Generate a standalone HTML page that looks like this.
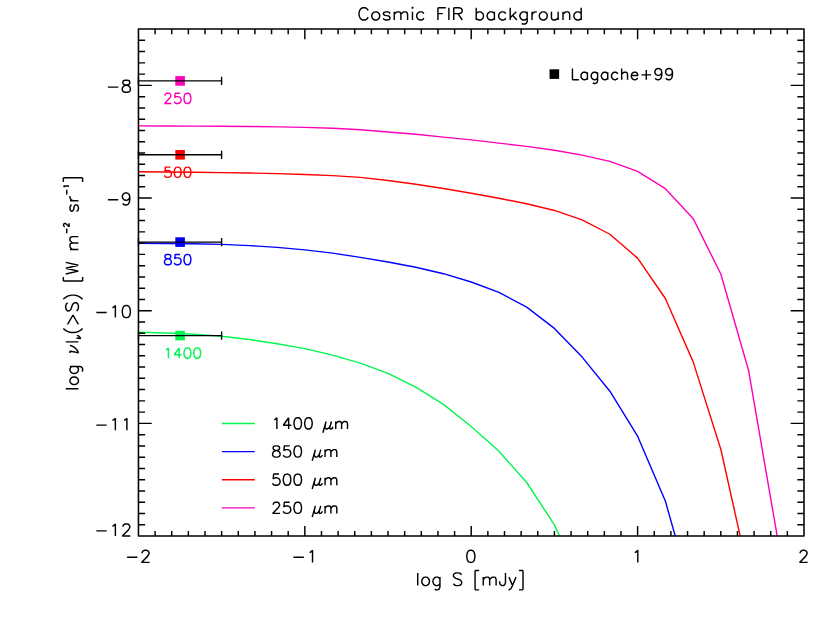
<!DOCTYPE html>
<html><head><meta charset="utf-8"><title>Cosmic FIR background</title>
<style>html,body{margin:0;padding:0;background:#fff;font-family:"Liberation Sans",sans-serif}svg{display:block}</style></head>
<body>
<svg width="830" height="624" viewBox="0 0 830 624" fill="none" stroke-linecap="round" stroke-linejoin="round">
<defs><clipPath id="c"><rect x="138.45" y="29.05" width="665.55" height="507"/></clipPath></defs>
<g clip-path="url(#c)" stroke-linejoin="round"><path d="M138.45 332.2 L166.18 333 L193.91 334.2 L221.64 336.2 L249.38 339.5 L277.11 343.8 L304.84 348.65 L332.57 355.1 L360.3 363.2 L388.03 373.4 L415.76 387.1 L443.49 404.4 L471.22 426.5 L498.96 451.3 L526.69 482.5 L554.42 524.9 L582.15 586" stroke="#00f550" stroke-width="1.4"/><path d="M138.45 243.3 L166.18 243.5 L193.91 243.8 L221.64 244.4 L249.38 245.6 L277.11 247.4 L304.84 249.9 L332.57 253.1 L360.3 257.4 L388.03 262 L415.76 267.2 L443.49 273.7 L471.22 282 L498.96 292.4 L526.69 307.1 L554.42 328.4 L582.15 357.1 L609.88 391.2 L637.61 436.2 L665.34 501 L693.08 599" stroke="#0000ff" stroke-width="1.4"/><path d="M138.45 171.8 L166.18 172 L193.91 172.3 L221.64 172.6 L249.38 173 L277.11 173.6 L304.84 174.5 L332.57 175.6 L360.3 177.4 L388.03 180.5 L415.76 184.3 L443.49 188.5 L471.22 193.2 L498.96 198.2 L526.69 203.8 L554.42 210.45 L582.15 219.8 L609.88 234.25 L637.61 258.1 L665.34 298.5 L693.08 361.6 L720.81 449.25 L748.54 573.6" stroke="#ff0000" stroke-width="1.4"/><path d="M138.45 125.9 L166.18 126 L193.91 126.1 L221.64 126.3 L249.38 126.5 L277.11 126.9 L304.84 127.4 L332.57 128.2 L360.3 129.7 L388.03 132 L415.76 134.3 L443.49 137.1 L471.22 139.9 L498.96 143.1 L526.69 146.4 L554.42 150.2 L582.15 155.1 L609.88 161.4 L637.61 171.4 L665.34 188.65 L693.08 218.4 L720.81 274 L748.54 370.2 L776.27 530.7 L804 720" stroke="#ff00b9" stroke-width="1.4"/></g>
<g><rect x="175.3" y="76.1" width="9.6" height="9.6" fill="#ff00b9" stroke="none"/><rect x="175.3" y="150" width="9.6" height="9.6" fill="#ff0000" stroke="none"/><rect x="175.3" y="237.3" width="9.6" height="9.6" fill="#0000ff" stroke="none"/><rect x="175.3" y="330.8" width="9.6" height="9.6" fill="#00f550" stroke="none"/></g>
<path d="M138.45 80.9 L221.6 80.9 M221.6 76.8 L221.6 85 M138.45 76.8 L138.45 85 M138.45 154.8 L221.6 154.8 M221.6 150.7 L221.6 158.9 M138.45 150.7 L138.45 158.9 M138.45 242.1 L221.6 242.1 M221.6 238 L221.6 246.2 M138.45 238 L138.45 246.2 M138.45 335.6 L221.6 335.6 M221.6 331.5 L221.6 339.7 M138.45 331.5 L138.45 339.7" stroke="#000" stroke-width="1.38" stroke-linecap="butt"/>
<path d="M164.96 95.68 L164.96 95.19 L165.44 94.21 L165.93 93.72 L166.91 93.23 L168.87 93.23 L169.85 93.72 L170.34 94.21 L170.82 95.19 L170.82 96.17 L170.34 97.14 L169.36 98.61 L164.47 103.5 L171.31 103.5 M180.12 93.23 L175.22 93.23 L174.74 97.63 L175.22 97.14 L176.69 96.65 L178.16 96.65 L179.63 97.14 L180.6 98.12 L181.09 99.59 L181.09 100.57 L180.6 102.03 L179.63 103.01 L178.16 103.5 L176.69 103.5 L175.22 103.01 L174.74 102.52 L174.25 101.54 M186.96 93.23 L185.49 93.72 L184.52 95.19 L184.03 97.63 L184.03 99.1 L184.52 101.54 L185.49 103.01 L186.96 103.5 L187.94 103.5 L189.41 103.01 L190.38 101.54 L190.87 99.1 L190.87 97.63 L190.38 95.19 L189.41 93.72 L187.94 93.23 L186.96 93.23" stroke="#ff00b9" stroke-width="1.43" stroke-linecap="butt" stroke-linejoin="bevel"/>
<path d="M170.34 167.13 L165.44 167.13 L164.96 171.53 L165.44 171.04 L166.91 170.55 L168.38 170.55 L169.85 171.04 L170.82 172.02 L171.31 173.49 L171.31 174.47 L170.82 175.93 L169.85 176.91 L168.38 177.4 L166.91 177.4 L165.44 176.91 L164.96 176.42 L164.47 175.44 M177.18 167.13 L175.71 167.62 L174.74 169.09 L174.25 171.53 L174.25 173 L174.74 175.44 L175.71 176.91 L177.18 177.4 L178.16 177.4 L179.63 176.91 L180.6 175.44 L181.09 173 L181.09 171.53 L180.6 169.09 L179.63 167.62 L178.16 167.13 L177.18 167.13 M186.96 167.13 L185.49 167.62 L184.52 169.09 L184.03 171.53 L184.03 173 L184.52 175.44 L185.49 176.91 L186.96 177.4 L187.94 177.4 L189.41 176.91 L190.38 175.44 L190.87 173 L190.87 171.53 L190.38 169.09 L189.41 167.62 L187.94 167.13 L186.96 167.13" stroke="#ff0000" stroke-width="1.43" stroke-linecap="butt" stroke-linejoin="bevel"/>
<path d="M166.91 254.43 L165.44 254.92 L164.96 255.9 L164.96 256.88 L165.44 257.85 L166.42 258.34 L168.38 258.83 L169.85 259.32 L170.82 260.3 L171.31 261.28 L171.31 262.74 L170.82 263.72 L170.34 264.21 L168.87 264.7 L166.91 264.7 L165.44 264.21 L164.96 263.72 L164.47 262.74 L164.47 261.28 L164.96 260.3 L165.93 259.32 L167.4 258.83 L169.36 258.34 L170.34 257.85 L170.82 256.88 L170.82 255.9 L170.34 254.92 L168.87 254.43 L166.91 254.43 M180.12 254.43 L175.22 254.43 L174.74 258.83 L175.22 258.34 L176.69 257.85 L178.16 257.85 L179.63 258.34 L180.6 259.32 L181.09 260.79 L181.09 261.77 L180.6 263.23 L179.63 264.21 L178.16 264.7 L176.69 264.7 L175.22 264.21 L174.74 263.72 L174.25 262.74 M186.96 254.43 L185.49 254.92 L184.52 256.39 L184.03 258.83 L184.03 260.3 L184.52 262.74 L185.49 264.21 L186.96 264.7 L187.94 264.7 L189.41 264.21 L190.38 262.74 L190.87 260.3 L190.87 258.83 L190.38 256.39 L189.41 254.92 L187.94 254.43 L186.96 254.43" stroke="#0000ff" stroke-width="1.43" stroke-linecap="butt" stroke-linejoin="bevel"/>
<path d="M165.93 349.89 L166.91 349.4 L168.38 347.93 L168.38 358.2 M179.14 347.93 L174.25 354.78 L181.58 354.78 M179.14 347.93 L179.14 358.2 M186.96 347.93 L185.49 348.42 L184.52 349.89 L184.03 352.33 L184.03 353.8 L184.52 356.24 L185.49 357.71 L186.96 358.2 L187.94 358.2 L189.41 357.71 L190.38 356.24 L190.87 353.8 L190.87 352.33 L190.38 349.89 L189.41 348.42 L187.94 347.93 L186.96 347.93 M196.74 347.93 L195.27 348.42 L194.3 349.89 L193.81 352.33 L193.81 353.8 L194.3 356.24 L195.27 357.71 L196.74 358.2 L197.72 358.2 L199.19 357.71 L200.16 356.24 L200.65 353.8 L200.65 352.33 L200.16 349.89 L199.19 348.42 L197.72 347.93 L196.74 347.93" stroke="#00f550" stroke-width="1.43" stroke-linecap="butt" stroke-linejoin="bevel"/>
<rect x="549.55" y="69.3" width="9.6" height="9.6" fill="#000" stroke="none"/>
<path d="M572.44 68.47 L572.44 79.7 M572.44 79.7 L578.86 79.7 M587.42 72.21 L587.42 79.7 M587.42 73.81 L586.35 72.75 L585.28 72.21 L583.67 72.21 L582.6 72.75 L581.53 73.81 L581 75.42 L581 76.49 L581.53 78.09 L582.6 79.17 L583.67 79.7 L585.28 79.7 L586.35 79.17 L587.42 78.09 M597.58 72.21 L597.58 80.77 L597.05 82.38 L596.51 82.91 L595.44 83.45 L593.84 83.45 L592.77 82.91 M597.58 73.81 L596.51 72.75 L595.44 72.21 L593.84 72.21 L592.77 72.75 L591.7 73.81 L591.16 75.42 L591.16 76.49 L591.7 78.09 L592.77 79.17 L593.84 79.7 L595.44 79.7 L596.51 79.17 L597.58 78.09 M607.75 72.21 L607.75 79.7 M607.75 73.81 L606.68 72.75 L605.61 72.21 L604 72.21 L602.93 72.75 L601.87 73.81 L601.33 75.42 L601.33 76.49 L601.87 78.09 L602.93 79.17 L604 79.7 L605.61 79.7 L606.68 79.17 L607.75 78.09 M617.91 73.81 L616.84 72.75 L615.77 72.21 L614.17 72.21 L613.1 72.75 L612.03 73.81 L611.5 75.42 L611.5 76.49 L612.03 78.09 L613.1 79.17 L614.17 79.7 L615.77 79.7 L616.84 79.17 L617.91 78.09 M621.66 68.47 L621.66 79.7 M621.66 74.35 L623.26 72.75 L624.33 72.21 L625.94 72.21 L627.01 72.75 L627.54 74.35 L627.54 79.7 M631.29 75.42 L637.71 75.42 L637.71 74.35 L637.17 73.28 L636.64 72.75 L635.57 72.21 L633.96 72.21 L632.89 72.75 L631.82 73.81 L631.29 75.42 L631.29 76.49 L631.82 78.09 L632.89 79.17 L633.96 79.7 L635.57 79.7 L636.64 79.17 L637.71 78.09 M646.27 70.07 L646.27 79.7 M641.45 74.89 L651.08 74.89 M661.78 72.21 L661.25 73.81 L660.18 74.89 L658.57 75.42 L658.04 75.42 L656.43 74.89 L655.37 73.81 L654.83 72.21 L654.83 71.67 L655.37 70.07 L656.43 69 L658.04 68.47 L658.57 68.47 L660.18 69 L661.25 70.07 L661.78 72.21 L661.78 74.89 L661.25 77.56 L660.18 79.17 L658.57 79.7 L657.5 79.7 L655.9 79.17 L655.37 78.09 M672.48 72.21 L671.95 73.81 L670.88 74.89 L669.27 75.42 L668.74 75.42 L667.13 74.89 L666.06 73.81 L665.53 72.21 L665.53 71.67 L666.06 70.07 L667.13 69 L668.74 68.47 L669.27 68.47 L670.88 69 L671.95 70.07 L672.48 72.21 L672.48 74.89 L671.95 77.56 L670.88 79.17 L669.27 79.7 L668.2 79.7 L666.6 79.17 L666.06 78.09" stroke="#000" stroke-width="1.43" stroke-linecap="butt" stroke-linejoin="bevel"/>
<path d="M221.9 423.5 L254.8 423.5" stroke="#00f550" stroke-width="1.4" stroke-linecap="butt"/>
<path d="M274.21 419.9 L275.28 419.37 L276.88 417.76 L276.88 429 M288.65 417.76 L283.31 425.25 L291.33 425.25 M288.65 417.76 L288.65 429 M297.22 417.76 L295.61 418.3 L294.54 419.9 L294 422.58 L294 424.19 L294.54 426.86 L295.61 428.46 L297.22 429 L298.29 429 L299.89 428.46 L300.96 426.86 L301.5 424.19 L301.5 422.58 L300.96 419.9 L299.89 418.3 L298.29 417.76 L297.22 417.76 M307.92 417.76 L306.31 418.3 L305.24 419.9 L304.7 422.58 L304.7 424.19 L305.24 426.86 L306.31 428.46 L307.92 429 L308.99 429 L310.59 428.46 L311.66 426.86 L312.19 424.19 L312.19 422.58 L311.66 419.9 L310.59 418.3 L308.99 417.76 L307.92 417.76 M326.11 421.51 L322.89 432.75 M325.57 423.65 L325.04 426.32 L325.04 427.93 L326.11 429 L327.18 429 L328.25 428.46 L329.31 427.39 L330.38 425.25 M331.45 421.51 L330.38 425.25 L329.85 427.39 L329.85 428.46 L330.38 429 L331.45 429 L332.52 427.93 L333.06 426.86 M335.74 421.51 L335.74 429 M335.74 423.65 L337.34 422.05 L338.41 421.51 L340.01 421.51 L341.09 422.05 L341.62 423.65 L341.62 429 M341.62 423.65 L343.23 422.05 L344.3 421.51 L345.9 421.51 L346.97 422.05 L347.5 423.65 L347.5 429" stroke="#000" stroke-width="1.43" stroke-linecap="butt" stroke-linejoin="bevel"/>
<path d="M221.9 451.6 L254.8 451.6" stroke="#0000ff" stroke-width="1.4" stroke-linecap="butt"/>
<path d="M275.28 445.87 L273.68 446.4 L273.14 447.47 L273.14 448.54 L273.68 449.61 L274.75 450.15 L276.88 450.68 L278.49 451.22 L279.56 452.29 L280.1 453.36 L280.1 454.96 L279.56 456.03 L279.02 456.56 L277.42 457.1 L275.28 457.1 L273.68 456.56 L273.14 456.03 L272.61 454.96 L272.61 453.36 L273.14 452.29 L274.21 451.22 L275.81 450.68 L277.95 450.15 L279.02 449.61 L279.56 448.54 L279.56 447.47 L279.02 446.4 L277.42 445.87 L275.28 445.87 M289.73 445.87 L284.38 445.87 L283.84 450.68 L284.38 450.15 L285.98 449.61 L287.58 449.61 L289.19 450.15 L290.26 451.22 L290.8 452.82 L290.8 453.89 L290.26 455.5 L289.19 456.56 L287.58 457.1 L285.98 457.1 L284.38 456.56 L283.84 456.03 L283.31 454.96 M297.22 445.87 L295.61 446.4 L294.54 448 L294 450.68 L294 452.29 L294.54 454.96 L295.61 456.56 L297.22 457.1 L298.29 457.1 L299.89 456.56 L300.96 454.96 L301.5 452.29 L301.5 450.68 L300.96 448 L299.89 446.4 L298.29 445.87 L297.22 445.87 M315.4 449.61 L312.19 460.85 M314.87 451.75 L314.33 454.43 L314.33 456.03 L315.4 457.1 L316.48 457.1 L317.55 456.56 L318.62 455.5 L319.69 453.36 M320.75 449.61 L319.69 453.36 L319.15 455.5 L319.15 456.56 L319.69 457.1 L320.75 457.1 L321.82 456.03 L322.36 454.96 M325.04 449.61 L325.04 457.1 M325.04 451.75 L326.64 450.15 L327.71 449.61 L329.31 449.61 L330.38 450.15 L330.92 451.75 L330.92 457.1 M330.92 451.75 L332.52 450.15 L333.6 449.61 L335.2 449.61 L336.27 450.15 L336.81 451.75 L336.81 457.1" stroke="#000" stroke-width="1.43" stroke-linecap="butt" stroke-linejoin="bevel"/>
<path d="M221.9 479.8 L254.8 479.8" stroke="#ff0000" stroke-width="1.4" stroke-linecap="butt"/>
<path d="M279.02 474.06 L273.68 474.06 L273.14 478.88 L273.68 478.35 L275.28 477.81 L276.88 477.81 L278.49 478.35 L279.56 479.42 L280.1 481.02 L280.1 482.09 L279.56 483.69 L278.49 484.76 L276.88 485.3 L275.28 485.3 L273.68 484.76 L273.14 484.23 L272.61 483.16 M286.51 474.06 L284.91 474.6 L283.84 476.2 L283.31 478.88 L283.31 480.49 L283.84 483.16 L284.91 484.76 L286.51 485.3 L287.58 485.3 L289.19 484.76 L290.26 483.16 L290.8 480.49 L290.8 478.88 L290.26 476.2 L289.19 474.6 L287.58 474.06 L286.51 474.06 M297.22 474.06 L295.61 474.6 L294.54 476.2 L294 478.88 L294 480.49 L294.54 483.16 L295.61 484.76 L297.22 485.3 L298.29 485.3 L299.89 484.76 L300.96 483.16 L301.5 480.49 L301.5 478.88 L300.96 476.2 L299.89 474.6 L298.29 474.06 L297.22 474.06 M315.4 477.81 L312.19 489.05 M314.87 479.95 L314.33 482.62 L314.33 484.23 L315.4 485.3 L316.48 485.3 L317.55 484.76 L318.62 483.69 L319.69 481.56 M320.75 477.81 L319.69 481.56 L319.15 483.69 L319.15 484.76 L319.69 485.3 L320.75 485.3 L321.82 484.23 L322.36 483.16 M325.04 477.81 L325.04 485.3 M325.04 479.95 L326.64 478.35 L327.71 477.81 L329.31 477.81 L330.38 478.35 L330.92 479.95 L330.92 485.3 M330.92 479.95 L332.52 478.35 L333.6 477.81 L335.2 477.81 L336.27 478.35 L336.81 479.95 L336.81 485.3" stroke="#000" stroke-width="1.43" stroke-linecap="butt" stroke-linejoin="bevel"/>
<path d="M221.9 507.9 L254.8 507.9" stroke="#ff00b9" stroke-width="1.4" stroke-linecap="butt"/>
<path d="M273.14 504.84 L273.14 504.3 L273.68 503.23 L274.21 502.7 L275.28 502.16 L277.42 502.16 L278.49 502.7 L279.02 503.23 L279.56 504.3 L279.56 505.38 L279.02 506.44 L277.95 508.05 L272.61 513.4 L280.1 513.4 M289.73 502.16 L284.38 502.16 L283.84 506.98 L284.38 506.44 L285.98 505.91 L287.58 505.91 L289.19 506.44 L290.26 507.51 L290.8 509.12 L290.8 510.19 L290.26 511.79 L289.19 512.87 L287.58 513.4 L285.98 513.4 L284.38 512.87 L283.84 512.33 L283.31 511.26 M297.22 502.16 L295.61 502.7 L294.54 504.3 L294 506.98 L294 508.58 L294.54 511.26 L295.61 512.87 L297.22 513.4 L298.29 513.4 L299.89 512.87 L300.96 511.26 L301.5 508.58 L301.5 506.98 L300.96 504.3 L299.89 502.7 L298.29 502.16 L297.22 502.16 M315.4 505.91 L312.19 517.14 M314.87 508.05 L314.33 510.72 L314.33 512.33 L315.4 513.4 L316.48 513.4 L317.55 512.87 L318.62 511.79 L319.69 509.65 M320.75 505.91 L319.69 509.65 L319.15 511.79 L319.15 512.87 L319.69 513.4 L320.75 513.4 L321.82 512.33 L322.36 511.26 M325.04 505.91 L325.04 513.4 M325.04 508.05 L326.64 506.44 L327.71 505.91 L329.31 505.91 L330.38 506.44 L330.92 508.05 L330.92 513.4 M330.92 508.05 L332.52 506.44 L333.6 505.91 L335.2 505.91 L336.27 506.44 L336.81 508.05 L336.81 513.4" stroke="#000" stroke-width="1.43" stroke-linecap="butt" stroke-linejoin="bevel"/>
<path d="M155.09 536.05 v-5.1 M155.09 29.05 v5.1 M171.73 536.05 v-5.1 M171.73 29.05 v5.1 M188.37 536.05 v-5.1 M188.37 29.05 v5.1 M205 536.05 v-5.1 M205 29.05 v5.1 M221.64 536.05 v-5.1 M221.64 29.05 v5.1 M238.28 536.05 v-5.1 M238.28 29.05 v5.1 M254.92 536.05 v-5.1 M254.92 29.05 v5.1 M271.56 536.05 v-5.1 M271.56 29.05 v5.1 M288.2 536.05 v-5.1 M288.2 29.05 v5.1 M304.84 536.05 v-10.1 M304.84 29.05 v10.1 M321.48 536.05 v-5.1 M321.48 29.05 v5.1 M338.12 536.05 v-5.1 M338.12 29.05 v5.1 M354.75 536.05 v-5.1 M354.75 29.05 v5.1 M371.39 536.05 v-5.1 M371.39 29.05 v5.1 M388.03 536.05 v-5.1 M388.03 29.05 v5.1 M404.67 536.05 v-5.1 M404.67 29.05 v5.1 M421.31 536.05 v-5.1 M421.31 29.05 v5.1 M437.95 536.05 v-5.1 M437.95 29.05 v5.1 M454.59 536.05 v-5.1 M454.59 29.05 v5.1 M471.22 536.05 v-10.1 M471.22 29.05 v10.1 M487.86 536.05 v-5.1 M487.86 29.05 v5.1 M504.5 536.05 v-5.1 M504.5 29.05 v5.1 M521.14 536.05 v-5.1 M521.14 29.05 v5.1 M537.78 536.05 v-5.1 M537.78 29.05 v5.1 M554.42 536.05 v-5.1 M554.42 29.05 v5.1 M571.06 536.05 v-5.1 M571.06 29.05 v5.1 M587.7 536.05 v-5.1 M587.7 29.05 v5.1 M604.34 536.05 v-5.1 M604.34 29.05 v5.1 M620.97 536.05 v-5.1 M620.97 29.05 v5.1 M637.61 536.05 v-10.1 M637.61 29.05 v10.1 M654.25 536.05 v-5.1 M654.25 29.05 v5.1 M670.89 536.05 v-5.1 M670.89 29.05 v5.1 M687.53 536.05 v-5.1 M687.53 29.05 v5.1 M704.17 536.05 v-5.1 M704.17 29.05 v5.1 M720.81 536.05 v-5.1 M720.81 29.05 v5.1 M737.44 536.05 v-5.1 M737.44 29.05 v5.1 M754.08 536.05 v-5.1 M754.08 29.05 v5.1 M770.72 536.05 v-5.1 M770.72 29.05 v5.1 M787.36 536.05 v-5.1 M787.36 29.05 v5.1 M138.45 524.78 h6.65 M804 524.78 h-6.65 M138.45 513.52 h6.65 M804 513.52 h-6.65 M138.45 502.25 h6.65 M804 502.25 h-6.65 M138.45 490.98 h6.65 M804 490.98 h-6.65 M138.45 479.72 h6.65 M804 479.72 h-6.65 M138.45 468.45 h6.65 M804 468.45 h-6.65 M138.45 457.18 h6.65 M804 457.18 h-6.65 M138.45 445.92 h6.65 M804 445.92 h-6.65 M138.45 434.65 h6.65 M804 434.65 h-6.65 M138.45 423.38 h13.3 M804 423.38 h-13.3 M138.45 412.12 h6.65 M804 412.12 h-6.65 M138.45 400.85 h6.65 M804 400.85 h-6.65 M138.45 389.58 h6.65 M804 389.58 h-6.65 M138.45 378.32 h6.65 M804 378.32 h-6.65 M138.45 367.05 h6.65 M804 367.05 h-6.65 M138.45 355.78 h6.65 M804 355.78 h-6.65 M138.45 344.52 h6.65 M804 344.52 h-6.65 M138.45 333.25 h6.65 M804 333.25 h-6.65 M138.45 321.98 h6.65 M804 321.98 h-6.65 M138.45 310.72 h13.3 M804 310.72 h-13.3 M138.45 299.45 h6.65 M804 299.45 h-6.65 M138.45 288.18 h6.65 M804 288.18 h-6.65 M138.45 276.92 h6.65 M804 276.92 h-6.65 M138.45 265.65 h6.65 M804 265.65 h-6.65 M138.45 254.38 h6.65 M804 254.38 h-6.65 M138.45 243.12 h6.65 M804 243.12 h-6.65 M138.45 231.85 h6.65 M804 231.85 h-6.65 M138.45 220.58 h6.65 M804 220.58 h-6.65 M138.45 209.32 h6.65 M804 209.32 h-6.65 M138.45 198.05 h13.3 M804 198.05 h-13.3 M138.45 186.78 h6.65 M804 186.78 h-6.65 M138.45 175.52 h6.65 M804 175.52 h-6.65 M138.45 164.25 h6.65 M804 164.25 h-6.65 M138.45 152.98 h6.65 M804 152.98 h-6.65 M138.45 141.72 h6.65 M804 141.72 h-6.65 M138.45 130.45 h6.65 M804 130.45 h-6.65 M138.45 119.18 h6.65 M804 119.18 h-6.65 M138.45 107.92 h6.65 M804 107.92 h-6.65 M138.45 96.65 h6.65 M804 96.65 h-6.65 M138.45 85.38 h13.3 M804 85.38 h-13.3 M138.45 74.12 h6.65 M804 74.12 h-6.65 M138.45 62.85 h6.65 M804 62.85 h-6.65 M138.45 51.58 h6.65 M804 51.58 h-6.65 M138.45 40.32 h6.65 M804 40.32 h-6.65" stroke="#000" stroke-width="1.45" stroke-linecap="butt"/>
<rect x="138.45" y="29.05" width="665.55" height="507" stroke="#000" stroke-width="1.55" stroke-linejoin="round"/>
<path d="M127.09 557.21 L137.47 557.21 M142.09 553.17 L142.09 552.59 L142.67 551.44 L143.24 550.86 L144.4 550.28 L146.7 550.28 L147.86 550.86 L148.44 551.44 L149.01 552.59 L149.01 553.75 L148.44 554.9 L147.28 556.63 L141.51 562.4 L149.59 562.4" stroke="#000" stroke-width="1.43" stroke-linecap="butt" stroke-linejoin="bevel"/>
<path d="M293.47 557.21 L303.86 557.21 M309.63 552.59 L310.78 552.01 L312.52 550.28 L312.52 562.4" stroke="#000" stroke-width="1.43" stroke-linecap="butt" stroke-linejoin="bevel"/>
<path d="M470.25 550.28 L468.52 550.86 L467.36 552.59 L466.79 555.48 L466.79 557.21 L467.36 560.09 L468.52 561.82 L470.25 562.4 L471.4 562.4 L473.13 561.82 L474.29 560.09 L474.86 557.21 L474.86 555.48 L474.29 552.59 L473.13 550.86 L471.4 550.28 L470.25 550.28" stroke="#000" stroke-width="1.43" stroke-linecap="butt" stroke-linejoin="bevel"/>
<path d="M634.9 552.59 L636.06 552.01 L637.79 550.28 L637.79 562.4" stroke="#000" stroke-width="1.43" stroke-linecap="butt" stroke-linejoin="bevel"/>
<path d="M800.14 553.17 L800.14 552.59 L800.72 551.44 L801.29 550.86 L802.45 550.28 L804.75 550.28 L805.91 550.86 L806.49 551.44 L807.06 552.59 L807.06 553.75 L806.49 554.9 L805.33 556.63 L799.56 562.4 L807.64 562.4" stroke="#000" stroke-width="1.43" stroke-linecap="butt" stroke-linejoin="bevel"/>
<path d="M107.87 87.09 L118.25 87.09 M125.18 80.17 L123.44 80.74 L122.87 81.9 L122.87 83.05 L123.44 84.21 L124.6 84.78 L126.91 85.36 L128.64 85.94 L129.79 87.09 L130.37 88.24 L130.37 89.98 L129.79 91.13 L129.22 91.71 L127.48 92.28 L125.18 92.28 L123.44 91.71 L122.87 91.13 L122.29 89.98 L122.29 88.24 L122.87 87.09 L124.02 85.94 L125.75 85.36 L128.06 84.78 L129.22 84.21 L129.79 83.05 L129.79 81.9 L129.22 80.74 L127.48 80.17 L125.18 80.17" stroke="#000" stroke-width="1.43" stroke-linecap="butt" stroke-linejoin="bevel"/>
<path d="M107.87 199.76 L118.25 199.76 M129.79 196.87 L129.22 198.6 L128.06 199.76 L126.33 200.33 L125.75 200.33 L124.02 199.76 L122.87 198.6 L122.29 196.87 L122.29 196.29 L122.87 194.56 L124.02 193.41 L125.75 192.83 L126.33 192.83 L128.06 193.41 L129.22 194.56 L129.79 196.87 L129.79 199.76 L129.22 202.64 L128.06 204.37 L126.33 204.95 L125.18 204.95 L123.44 204.37 L122.87 203.22" stroke="#000" stroke-width="1.43" stroke-linecap="butt" stroke-linejoin="bevel"/>
<path d="M96.33 312.42 L106.71 312.42 M112.48 307.81 L113.64 307.23 L115.37 305.5 L115.37 317.62 M125.75 305.5 L124.02 306.08 L122.87 307.81 L122.29 310.69 L122.29 312.42 L122.87 315.31 L124.02 317.04 L125.75 317.62 L126.91 317.62 L128.64 317.04 L129.79 315.31 L130.37 312.42 L130.37 310.69 L129.79 307.81 L128.64 306.08 L126.91 305.5 L125.75 305.5" stroke="#000" stroke-width="1.43" stroke-linecap="butt" stroke-linejoin="bevel"/>
<path d="M96.33 425.09 L106.71 425.09 M112.48 420.47 L113.64 419.9 L115.37 418.17 L115.37 430.28 M124.02 420.47 L125.18 419.9 L126.91 418.17 L126.91 430.28" stroke="#000" stroke-width="1.43" stroke-linecap="butt" stroke-linejoin="bevel"/>
<path d="M96.33 530.86 L106.71 530.86 M112.48 526.24 L113.64 525.66 L115.37 523.93 L115.37 536.05 M122.87 526.82 L122.87 526.24 L123.44 525.09 L124.02 524.51 L125.18 523.93 L127.48 523.93 L128.64 524.51 L129.22 525.09 L129.79 526.24 L129.79 527.39 L129.22 528.55 L128.06 530.28 L122.29 536.05 L130.37 536.05" stroke="#000" stroke-width="1.43" stroke-linecap="butt" stroke-linejoin="bevel"/>
<path d="M368.15 10.68 L367.54 9.51 L366.32 8.35 L365.11 7.76 L362.68 7.76 L361.47 8.35 L360.25 9.51 L359.65 10.68 L359.04 12.42 L359.04 15.34 L359.65 17.09 L360.25 18.25 L361.47 19.42 L362.68 20 L365.11 20 L366.32 19.42 L367.54 18.25 L368.15 17.09 M374.82 11.84 L373.61 12.42 L372.39 13.59 L371.79 15.34 L371.79 16.5 L372.39 18.25 L373.61 19.42 L374.82 20 L376.64 20 L377.86 19.42 L379.07 18.25 L379.68 16.5 L379.68 15.34 L379.07 13.59 L377.86 12.42 L376.64 11.84 L374.82 11.84 M390 13.59 L389.39 12.42 L387.57 11.84 L385.75 11.84 L383.93 12.42 L383.32 13.59 L383.93 14.76 L385.14 15.34 L388.18 15.92 L389.39 16.5 L390 17.67 L390 18.25 L389.39 19.42 L387.57 20 L385.75 20 L383.93 19.42 L383.32 18.25 M394.25 11.84 L394.25 20 M394.25 14.17 L396.07 12.42 L397.28 11.84 L399.1 11.84 L400.32 12.42 L400.92 14.17 L400.92 20 M400.92 14.17 L402.74 12.42 L403.96 11.84 L405.78 11.84 L406.99 12.42 L407.6 14.17 L407.6 20 M411.85 7.76 L412.46 8.35 L413.06 7.76 L412.46 7.18 L411.85 7.76 M412.46 11.84 L412.46 20 M423.99 13.59 L422.78 12.42 L421.56 11.84 L419.74 11.84 L418.53 12.42 L417.31 13.59 L416.71 15.34 L416.71 16.5 L417.31 18.25 L418.53 19.42 L419.74 20 L421.56 20 L422.78 19.42 L423.99 18.25 M437.95 7.76 L437.95 20 M437.95 7.76 L445.84 7.76 M437.95 13.59 L442.81 13.59 M448.88 7.76 L448.88 20 M453.73 7.76 L453.73 20 M453.73 7.76 L459.2 7.76 L461.02 8.35 L461.62 8.93 L462.23 10.09 L462.23 11.26 L461.62 12.42 L461.02 13.01 L459.2 13.59 L453.73 13.59 M457.98 13.59 L462.23 20 M476.19 7.76 L476.19 20 M476.19 13.59 L477.41 12.42 L478.62 11.84 L480.44 11.84 L481.65 12.42 L482.87 13.59 L483.48 15.34 L483.48 16.5 L482.87 18.25 L481.65 19.42 L480.44 20 L478.62 20 L477.41 19.42 L476.19 18.25 M494.4 11.84 L494.4 20 M494.4 13.59 L493.19 12.42 L491.97 11.84 L490.15 11.84 L488.94 12.42 L487.72 13.59 L487.12 15.34 L487.12 16.5 L487.72 18.25 L488.94 19.42 L490.15 20 L491.97 20 L493.19 19.42 L494.4 18.25 M505.93 13.59 L504.72 12.42 L503.51 11.84 L501.69 11.84 L500.47 12.42 L499.26 13.59 L498.65 15.34 L498.65 16.5 L499.26 18.25 L500.47 19.42 L501.69 20 L503.51 20 L504.72 19.42 L505.93 18.25 M510.18 7.76 L510.18 20 M516.25 11.84 L510.18 17.67 M512.61 15.34 L516.86 20 M527.18 11.84 L527.18 21.17 L526.57 22.91 L525.97 23.5 L524.75 24.08 L522.93 24.08 L521.72 23.5 M527.18 13.59 L525.97 12.42 L524.75 11.84 L522.93 11.84 L521.72 12.42 L520.5 13.59 L519.9 15.34 L519.9 16.5 L520.5 18.25 L521.72 19.42 L522.93 20 L524.75 20 L525.97 19.42 L527.18 18.25 M532.04 11.84 L532.04 20 M532.04 15.34 L532.64 13.59 L533.86 12.42 L535.07 11.84 L536.89 11.84 M542.35 11.84 L541.14 12.42 L539.93 13.59 L539.32 15.34 L539.32 16.5 L539.93 18.25 L541.14 19.42 L542.35 20 L544.18 20 L545.39 19.42 L546.6 18.25 L547.21 16.5 L547.21 15.34 L546.6 13.59 L545.39 12.42 L544.18 11.84 L542.35 11.84 M551.46 11.84 L551.46 17.67 L552.07 19.42 L553.28 20 L555.1 20 L556.32 19.42 L558.14 17.67 M558.14 11.84 L558.14 20 M562.99 11.84 L562.99 20 M562.99 14.17 L564.81 12.42 L566.03 11.84 L567.85 11.84 L569.06 12.42 L569.67 14.17 L569.67 20 M581.2 7.76 L581.2 20 M581.2 13.59 L579.99 12.42 L578.77 11.84 L576.95 11.84 L575.74 12.42 L574.53 13.59 L573.92 15.34 L573.92 16.5 L574.53 18.25 L575.74 19.42 L576.95 20 L578.77 20 L579.99 19.42 L581.2 18.25" stroke="#000" stroke-width="1.43" stroke-linecap="butt" stroke-linejoin="bevel"/>
<path d="M417.73 572.89 L417.73 585.6 M424.75 577.12 L423.57 577.73 L422.4 578.94 L421.82 580.76 L421.82 581.97 L422.4 583.78 L423.57 584.99 L424.75 585.6 L426.5 585.6 L427.67 584.99 L428.84 583.78 L429.43 581.97 L429.43 580.76 L428.84 578.94 L427.67 577.73 L426.5 577.12 L424.75 577.12 M439.95 577.12 L439.95 586.81 L439.37 588.63 L438.79 589.23 L437.62 589.84 L435.86 589.84 L434.69 589.23 M439.95 578.94 L438.79 577.73 L437.62 577.12 L435.86 577.12 L434.69 577.73 L433.52 578.94 L432.94 580.76 L432.94 581.97 L433.52 583.78 L434.69 584.99 L435.86 585.6 L437.62 585.6 L438.79 584.99 L439.95 583.78 M461.6 574.7 L460.43 573.49 L458.68 572.89 L456.33 572.89 L454.58 573.49 L453.41 574.7 L453.41 575.91 L454 577.12 L454.58 577.73 L455.75 578.33 L459.26 579.55 L460.43 580.15 L461.01 580.76 L461.6 581.97 L461.6 583.78 L460.43 584.99 L458.68 585.6 L456.33 585.6 L454.58 584.99 L453.41 583.78 M475.06 570.46 L475.06 589.84 M475.06 570.46 L479.15 570.46 M475.06 589.84 L479.15 589.84 M483.25 577.12 L483.25 585.6 M483.25 579.55 L485 577.73 L486.17 577.12 L487.93 577.12 L489.1 577.73 L489.68 579.55 L489.68 585.6 M489.68 579.55 L491.44 577.73 L492.61 577.12 L494.36 577.12 L495.53 577.73 L496.12 579.55 L496.12 585.6 M505.48 572.89 L505.48 582.57 L504.89 584.39 L504.31 584.99 L503.13 585.6 L501.97 585.6 L500.8 584.99 L500.21 584.39 L499.62 582.57 L499.62 581.36 M508.99 577.12 L512.5 585.6 M516 577.12 L512.5 585.6 L511.32 588.02 L510.15 589.23 L508.99 589.84 L508.4 589.84 M523.02 570.46 L523.02 589.84 M518.93 570.46 L523.02 570.46 M518.93 589.84 L523.02 589.84" stroke="#000" stroke-width="1.43" stroke-linecap="butt" stroke-linejoin="bevel"/>
<path d="M65.75 388.67 L78.4 388.67 M69.96 381.65 L70.57 382.82 L71.77 383.99 L73.58 384.57 L74.78 384.57 L76.59 383.99 L77.8 382.82 L78.4 381.65 L78.4 379.89 L77.8 378.72 L76.59 377.55 L74.78 376.97 L73.58 376.97 L71.77 377.55 L70.57 378.72 L69.96 379.89 L69.96 381.65 M69.96 366.44 L79.61 366.44 L81.41 367.02 L82.02 367.61 L82.62 368.78 L82.62 370.53 L82.02 371.7 M71.77 366.44 L70.57 367.61 L69.96 368.78 L69.96 370.53 L70.57 371.7 L71.77 372.87 L73.58 373.46 L74.78 373.46 L76.59 372.87 L77.8 371.7 L78.4 370.53 L78.4 368.78 L77.8 367.61 L76.59 366.44 M69.96 352.98 L69.96 351.23 L73.58 351.81 L76.59 352.4 L78.4 352.98 M69.96 345.38 L71.77 345.96 L72.98 346.55 L74.78 347.72 L76.59 349.47 L77.8 351.23 L78.4 352.98 M65.75 341.87 L78.4 341.87 M76.98 338.75 L76.98 337.98 L78.57 338.24 L79.89 338.5 L80.69 338.75 M76.98 335.41 L77.77 335.67 L78.3 335.92 L79.1 336.44 L79.89 337.21 L80.42 337.98 L80.69 338.75 M63.34 328.46 L64.54 329.63 L66.35 330.8 L68.76 331.97 L71.77 332.55 L74.18 332.55 L77.19 331.97 L79.61 330.8 L81.41 329.63 L82.62 328.46 M67.55 324.36 L72.98 315 L78.4 324.36 M67.55 302.72 L66.35 303.89 L65.75 305.64 L65.75 307.98 L66.35 309.74 L67.55 310.91 L68.76 310.91 L69.96 310.32 L70.57 309.74 L71.17 308.57 L72.37 305.06 L72.98 303.89 L73.58 303.3 L74.78 302.72 L76.59 302.72 L77.8 303.89 L78.4 305.64 L78.4 307.98 L77.8 309.74 L76.59 310.91 M63.34 299.21 L64.54 298.04 L66.35 296.87 L68.76 295.7 L71.77 295.11 L74.18 295.11 L77.19 295.7 L79.61 296.87 L81.41 298.04 L82.62 299.21 M63.34 281.07 L82.62 281.07 M63.34 281.07 L63.34 276.98 M82.62 281.07 L82.62 276.98 M65.75 274.05 L78.4 271.13 M65.75 268.2 L78.4 271.13 M65.75 268.2 L78.4 265.28 M65.75 262.35 L78.4 265.28 M69.96 249.48 L78.4 249.48 M72.37 249.48 L70.57 247.73 L69.96 246.56 L69.96 244.8 L70.57 243.63 L72.37 243.05 L78.4 243.05 M72.37 243.05 L70.57 241.29 L69.96 240.12 L69.96 238.37 L70.57 237.2 L72.37 236.61 L78.4 236.61 M66.73 233.24 L66.73 228.61 M64.88 226.55 L64.61 226.55 L64.08 226.29 L63.82 226.04 L63.55 225.52 L63.55 224.49 L63.82 223.98 L64.08 223.72 L64.61 223.46 L65.14 223.46 L65.67 223.72 L66.47 224.24 L69.12 226.81 L69.12 223.21 M71.77 204.88 L70.57 205.47 L69.96 207.22 L69.96 208.98 L70.57 210.73 L71.77 211.32 L72.98 210.73 L73.58 209.56 L74.18 206.64 L74.78 205.47 L75.99 204.88 L76.59 204.88 L77.8 205.47 L78.4 207.22 L78.4 208.98 L77.8 210.73 L76.59 211.32 M69.96 200.79 L78.4 200.79 M73.58 200.79 L71.77 200.2 L70.57 199.03 L69.96 197.86 L69.96 196.11 M66.73 194.49 L66.73 189.86 M64.61 187.29 L64.35 186.77 L63.55 186 L69.12 186 M63.34 177.83 L82.62 177.83 M63.34 181.93 L63.34 177.83 M82.62 181.93 L82.62 177.83" stroke="#000" stroke-width="1.43" stroke-linecap="butt" stroke-linejoin="bevel"/>
</svg>
</body></html>
